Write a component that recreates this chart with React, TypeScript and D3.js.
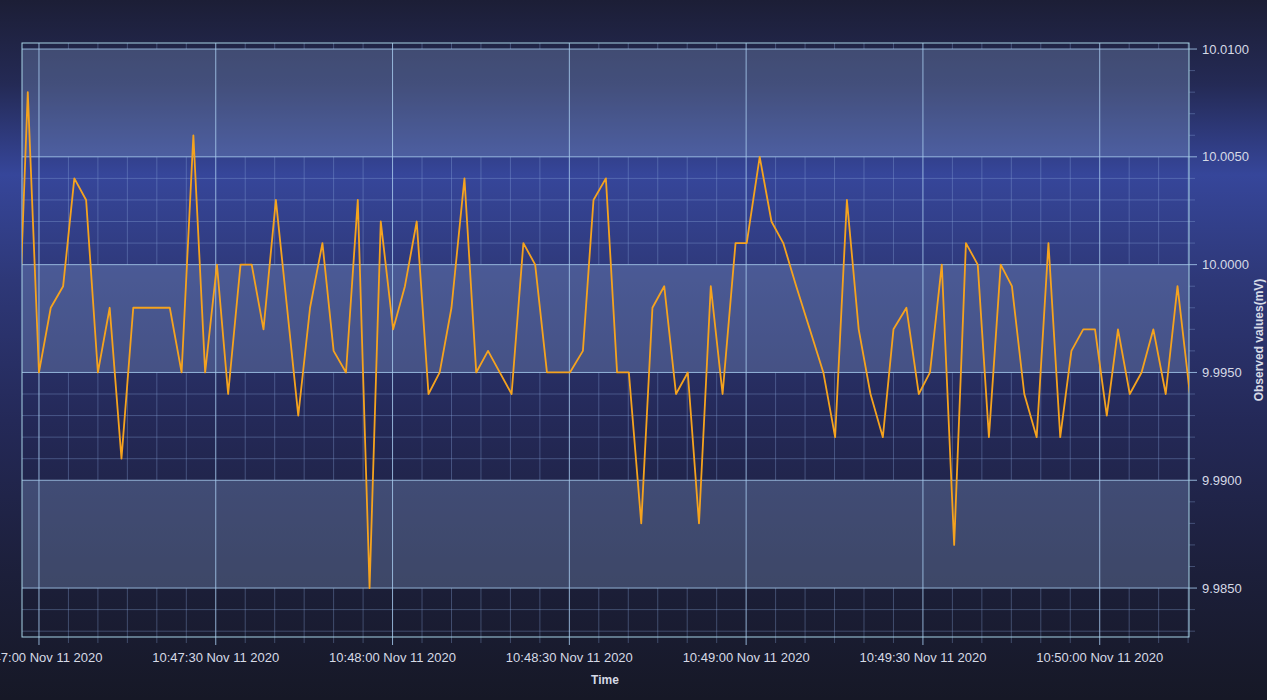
import React from "react";
import * as d3 from "d3";

// seconds after 10:47:00 Nov 11 2020
const timeOffsets = [
  -3.0, -1.9, 0.0, 2.0, 4.1, 6.0, 8.0, 10.0, 12.0, 14.0, 16.0, 18.1, 20.1, 22.2, 24.2, 26.2, 28.2,
  30.2, 32.1, 34.2, 36.1, 38.1, 40.2, 44.0, 46.0, 48.1, 50.0, 52.1, 54.1, 56.1, 58.0, 60.1, 62.1,
  64.1, 66.1, 68.0, 70.0, 72.2, 74.2, 76.2, 80.2, 82.2, 84.2, 86.2, 88.2, 90.1, 92.3, 94.1, 96.2,
  98.1, 100.1, 102.2, 104.1, 106.1, 108.1, 110.1, 112.0, 114.0, 116.0, 118.2, 120.1, 122.3, 124.3,
  126.3, 128.5, 130.8, 133.1, 135.1, 137.1, 139.1, 141.1, 143.2, 145.0, 147.2, 149.3, 151.2, 153.2,
  155.3, 157.3, 159.3, 161.2, 163.2, 165.1, 167.2, 169.3, 171.3, 173.3, 175.2, 177.2, 179.2, 181.2,
  183.1, 185.1, 187.1, 189.1, 191.2, 193.2, 195.3,
];
const observedValues = [
  10.0, 10.008, 9.995, 9.998, 9.999, 10.004, 10.003, 9.995, 9.998, 9.991, 9.998, 9.998, 9.998, 9.998, 9.995, 10.006, 9.995,
  10.0, 9.994, 10.0, 10.0, 9.997, 10.003, 9.993, 9.998, 10.001, 9.996, 9.995, 10.003, 9.985, 10.002, 9.997, 9.999,
  10.002, 9.994, 9.995, 9.998, 10.004, 9.995, 9.996, 9.994, 10.001, 10.0, 9.995, 9.995, 9.995, 9.996, 10.003, 10.004,
  9.995, 9.995, 9.988, 9.998, 9.999, 9.994, 9.995, 9.988, 9.999, 9.994, 10.001, 10.001, 10.005, 10.002,
  10.001, 9.999, 9.997, 9.995, 9.992, 10.003, 9.997, 9.994, 9.992, 9.997, 9.998, 9.994, 9.995, 10.0,
  9.987, 10.001, 10.0, 9.992, 10.0, 9.999, 9.994, 9.992, 10.001, 9.992, 9.996, 9.997, 9.997, 9.993,
  9.997, 9.994, 9.995, 9.997, 9.994, 9.999, 9.994,
];
const yTickValues = [9.985, 9.99, 9.995, 10.0, 10.005, 10.01];
const xAxisTitle = "Time";
const yAxisTitle = "Observed values(mV)";

const W = 1267;
const H = 700;
const L = 22, R = 1189, T = 43, B = 637;
const base = new Date(2020, 10, 11, 10, 47, 0).getTime();
const FONT = "'Liberation Sans', Arial, sans-serif";

export default function App() {
  const x = d3
    .scaleTime()
    .domain([new Date(base - 2880), new Date(base + 195150)])
    .range([L, R]);
  const y = d3.scaleLinear().domain([9.98273, 10.01028]).range([B, T]);

  const data = timeOffsets.map((t, i) => ({ t: new Date(base + t * 1000), v: observedValues[i] }));
  const line = d3
    .line<{ t: Date; v: number }>()
    .x((d) => x(d.t))
    .y((d) => y(d.v));

  const xMajor = x.ticks(d3.timeSecond.every(30)!);
  const xMinor = x.ticks(d3.timeSecond.every(5)!).filter((d) => d.getSeconds() % 30 !== 0);
  const yMinor = d3
    .range(9983, 10011)
    .map((k) => k / 1000)
    .filter((v) => Math.round(v * 1000) % 5 !== 0 && v >= y.domain()[0] && v <= y.domain()[1]);
  const fmt = d3.timeFormat("%H:%M:%S %b %d %Y");

  const bands = yTickValues.filter((_, i) => i % 2 === 0).map((v) => [v, v + 0.005]);

  return (
    <svg width={W} height={H} style={{ position: "absolute", left: 0, top: 0 }} fontFamily={FONT}>
      <defs>
        <linearGradient id="bg" gradientUnits="userSpaceOnUse" x1="0" y1="0" x2="0" y2={H}>
          <stop offset="0" stopColor="#1c1e36" />
          <stop offset="0.12" stopColor="#242a55" />
          <stop offset="0.25" stopColor="#36469a" />
          <stop offset="0.4" stopColor="#2e3878" />
          <stop offset="0.6" stopColor="#242958" />
          <stop offset="0.82" stopColor="#1c1f3a" />
          <stop offset="1" stopColor="#161826" />
        </linearGradient>
        <clipPath id="plotClip">
          <rect x={L} y={T} width={R - L} height={B - T} />
        </clipPath>
      </defs>
      <rect x={0} y={0} width={W} height={H} fill="url(#bg)" />

      {/* minor grid */}
      {yMinor.map((v, i) => (
        <line key={"ym" + i} x1={L} x2={R + 6} y1={y(v)} y2={y(v)} stroke="rgba(140,170,220,0.35)" strokeWidth={1} />
      ))}
      {xMinor.map((d, i) => (
        <line key={"xm" + i} x1={x(d)} x2={x(d)} y1={T} y2={B + 6} stroke="rgba(140,170,220,0.35)" strokeWidth={1} />
      ))}

      {bands.map(([a, b], i) => {
        const y0 = Math.max(T, y(b));
        const h = Math.min(B, y(a)) - y0;
        return (
          <g key={"band" + i}>
            <rect x={L} y={y0} width={R - L} height={h} fill="url(#bg)" />
            <rect x={L} y={y0} width={R - L} height={h} fill="rgba(135,160,205,0.32)" />
          </g>
        );
      })}

      {/* major grid */}
      {yTickValues.map((v, i) => (
        <line key={"yM" + i} x1={L} x2={R + 8} y1={y(v)} y2={y(v)} stroke="rgba(165,200,235,0.85)" strokeWidth={1} />
      ))}
      {xMajor.map((d, i) => (
        <line key={"xM" + i} x1={x(d)} x2={x(d)} y1={T} y2={B + 8} stroke="rgba(165,200,235,0.85)" strokeWidth={1} />
      ))}

      <rect x={L} y={T} width={R - L} height={B - T} fill="none" stroke="#a8d4e6" strokeWidth={1} />

      <path d={line(data) || ""} fill="none" stroke="#f5a31e" strokeWidth={1.8} strokeLinejoin="round" clipPath="url(#plotClip)" />

      {yTickValues.map((v, i) => (
        <text key={"yl" + i} x={1202} y={y(v)} dy="0.35em" fontSize={13} fill="#d6dae6">
          {d3.format(".4f")(v)}
        </text>
      ))}
      {xMajor.map((d, i) => (
        <text key={"xl" + i} x={x(d)} y={662} textAnchor="middle" fontSize={13} fill="#d6dae6">
          {fmt(d)}
        </text>
      ))}
      <text x={605} y={684} textAnchor="middle" fontSize={12} fontWeight="bold" fill="#d6dae6">
        {xAxisTitle}
      </text>
      <text
        transform={`translate(1263, ${(T + B) / 2}) rotate(-90)`}
        textAnchor="middle"
        fontSize={12}
        fontWeight="bold"
        fill="#d6dae6"
      >
        {yAxisTitle}
      </text>
    </svg>
  );
}
